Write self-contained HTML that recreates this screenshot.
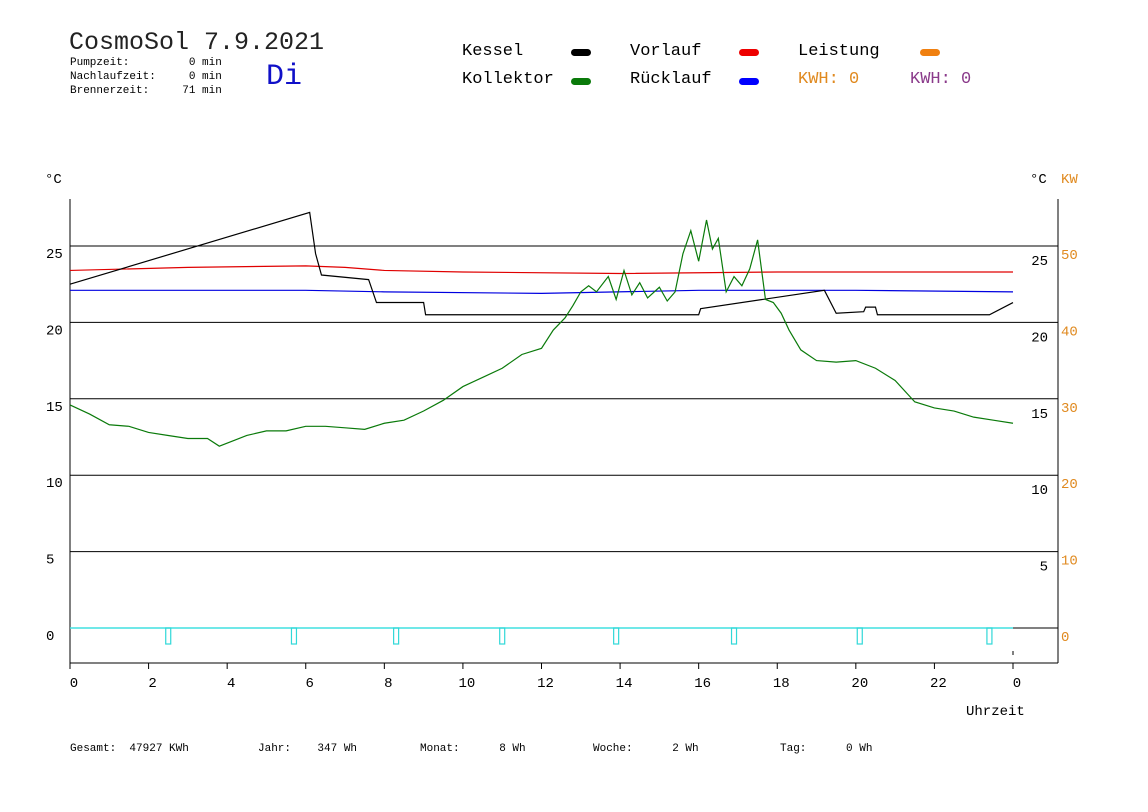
<!DOCTYPE html>
<html><head><meta charset="utf-8">
<style>
body{margin:0;background:#fff;width:1148px;height:812px;overflow:hidden;position:relative;font-family:"Liberation Mono",monospace;}
.t{position:absolute;white-space:pre;}
.s{font-family:"Liberation Mono",monospace;font-size:11px;}
.lg{font-size:17px;}
.sw{position:absolute;width:20px;height:7px;border-radius:4px;}
</style></head><body>
<div class="t" style="left:69px;top:28px;font-size:25px;color:#222">CosmoSol 7.9.2021</div>
<div class="t s" style="left:70px;top:57px">Pumpzeit:         0 min</div>
<div class="t s" style="left:70px;top:71px">Nachlaufzeit:     0 min</div>
<div class="t s" style="left:70px;top:85px">Brennerzeit:     71 min</div>
<div class="t" style="left:266px;top:60px;font-size:30px;color:#1010c8">Di</div>

<div class="t lg" style="left:462px;top:42px">Kessel</div>
<div class="sw" style="left:571px;top:49px;background:#000"></div>
<div class="t lg" style="left:462px;top:70px">Kollektor</div>
<div class="sw" style="left:571px;top:78px;background:#0a7a0a"></div>
<div class="t lg" style="left:630px;top:42px">Vorlauf</div>
<div class="sw" style="left:739px;top:49px;background:#e00"></div>
<div class="t lg" style="left:630px;top:70px">Rücklauf</div>
<div class="sw" style="left:739px;top:78px;background:#00f"></div>
<div class="t lg" style="left:798px;top:42px">Leistung</div>
<div class="sw" style="left:920px;top:49px;background:#f08010"></div>
<div class="t lg" style="left:798px;top:70px;color:#e08a20">KWH: 0</div>
<div class="t lg" style="left:910px;top:70px;color:#8a3a8a">KWH: 0</div>

<svg id="ch" width="1148" height="812" style="position:absolute;left:0;top:0" font-family="Liberation Mono, monospace"></svg>

<div class="t s" style="left:70px;top:743px">Gesamt:  47927 KWh</div>
<div class="t s" style="left:258px;top:743px">Jahr:    347 Wh</div>
<div class="t s" style="left:420px;top:743px">Monat:      8 Wh</div>
<div class="t s" style="left:593px;top:743px">Woche:      2 Wh</div>
<div class="t s" style="left:780px;top:743px">Tag:      0 Wh</div>

<script>
const hourTicks=[0,2,4,6,8,10,12,14,16,18,20,22,24];
const hourLabels=["0","2","4","6","8","10","12","14","16","18","20","22","0"];
const tempTicks=[0,5,10,15,20,25];
const kwLabels=["0","10","20","30","40","50"];
const kesselT=[0,6.1,6.25,6.4,7.6,7.8,9.0,9.05,16.0,16.05,19.2,19.5,20.2,20.25,20.5,20.55,23.4,24];
const kesselV=[22.5,27.2,24.5,23.1,22.8,21.3,21.3,20.5,20.5,20.9,22.1,20.6,20.7,21.0,21.0,20.5,20.5,21.3];
const vorlaufT=[0,3,6,7,8,10,14,18,24];
const vorlaufV=[23.4,23.6,23.7,23.6,23.4,23.3,23.2,23.3,23.3];
const ruecklaufT=[0,6,8,12,16,20,24];
const ruecklaufV=[22.1,22.1,22.0,21.9,22.1,22.1,22.0];
const kollT=[0,0.5,1,1.5,2,2.5,3,3.5,3.8,4.2,4.5,5,5.5,6,6.5,7,7.5,8,8.5,9,9.5,10,10.5,11,11.5,12,12.3,12.6,12.8,13,13.2,13.4,13.7,13.9,14.1,14.3,14.5,14.7,15,15.2,15.4,15.6,15.8,16,16.2,16.35,16.5,16.7,16.9,17.1,17.3,17.5,17.7,17.9,18.1,18.3,18.6,19,19.5,20,20.5,21,21.5,22,22.5,23,23.5,24];
const kollV=[14.6,14.0,13.3,13.2,12.8,12.6,12.4,12.4,11.9,12.3,12.6,12.9,12.9,13.2,13.2,13.1,13.0,13.4,13.6,14.2,14.9,15.8,16.4,17.0,17.9,18.3,19.5,20.3,21.1,22.0,22.4,22.0,23.0,21.5,23.4,21.8,22.6,21.6,22.3,21.4,22.0,24.5,26.0,24.0,26.7,24.8,25.5,22.0,23.0,22.4,23.5,25.4,21.5,21.3,20.6,19.5,18.2,17.5,17.4,17.5,17.0,16.2,14.8,14.4,14.2,13.8,13.6,13.4];
const pulseH=[2.5,5.7,8.3,11.0,13.9,16.9,20.1,23.4];

const NS="http://www.w3.org/2000/svg",svg=document.getElementById('ch');
const X=h=>70+h*(943/24), Y=v=>628-v*15.28;
function mk(tag,a,name){const e=document.createElementNS(NS,tag);for(const k in a)e.setAttribute(k,a[k]);


svg.appendChild(e);return e;}
function txt(x,y,s,name,fill,anchor){const e=mk('text',{x:x,y:y,'font-size':14,fill:fill||'#000','text-anchor':anchor||'start'},name);e.textContent=s;return e;}
mk('line',{x1:70,y1:199,x2:70,y2:663,stroke:'#000'},'y-axis-left');
mk('line',{x1:1058,y1:199,x2:1058,y2:663,stroke:'#000'},'y-axis-right');
mk('line',{x1:70,y1:663,x2:1058,y2:663,stroke:'#000'},'x-axis');
tempTicks.forEach((v,i)=>{const y=Y(v);
 mk('line',{x1:70,y1:y,x2:1058,y2:y,stroke:'#000'},'gridline-'+v);
 txt(46,y+12,String(v),'y-label-left-'+v);
 if(v>0) txt(1048,y+19,String(v),'y-label-right-'+v,'#000','end');
 txt(1061,y+13,kwLabels[i],'kw-label-'+kwLabels[i],'#e08a20');
});
txt(45,183,'°C','y-unit-left');
txt(1030,183,'°C','y-unit-right');
txt(1061,183,'KW','kw-unit','#e08a20');
hourTicks.forEach((h,i)=>{const x=X(h);
 mk('line',{x1:x,y1:663,x2:x,y2:669,stroke:'#000'},'x-tick-'+h);
 txt(x+4,687,hourLabels[i],'x-label-'+h,'#000','middle');
});
mk('line',{x1:X(24),y1:651,x2:X(24),y2:655,stroke:'#000'},'end-mark');
txt(966,715,'Uhrzeit','x-axis-title');
function pl(T,V,c,name){let p=[];for(let i=0;i<T.length;i++){p.push(X(T[i])+','+Y(V[i]));}
 mk('polyline',{points:p.join(' '),fill:'none',stroke:c,'stroke-width':1.2},name);}
pl(vorlaufT,vorlaufV,'#e00000','line-vorlauf');
pl(ruecklaufT,ruecklaufV,'#0000e0','line-ruecklauf');
pl(kesselT,kesselV,'#000','line-kessel');
pl(kollT,kollV,'#0a7a0a','line-kollektor');
mk('line',{x1:X(0),y1:Y(0),x2:X(24),y2:Y(0),stroke:'#40e0e0','stroke-width':1.5},'pump-baseline');
pulseH.forEach(h=>{mk('rect',{x:X(h)-2.5,y:Y(0),width:5,height:16,fill:'none',stroke:'#30d8d8','stroke-width':1.2},'pump-pulse');});
</script>
</body></html>
